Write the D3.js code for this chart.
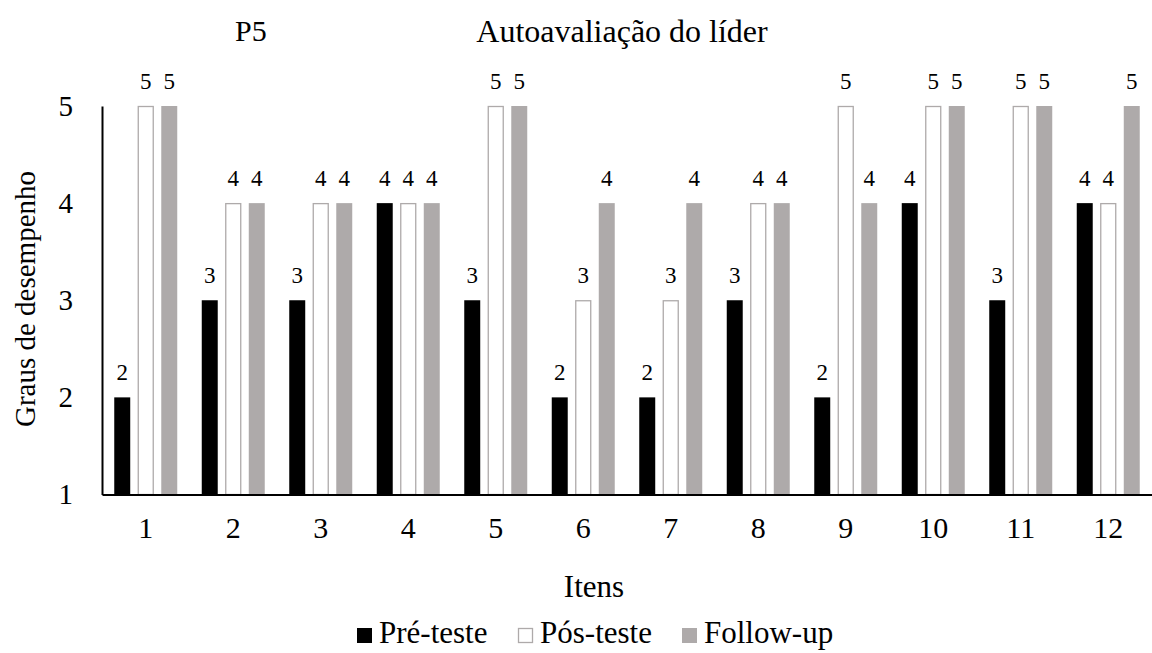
<!DOCTYPE html>
<html>
<head>
<meta charset="utf-8">
<script src="https://cdn.jsdelivr.net/npm/d3@7"></script>
<style>
  html, body { margin: 0; padding: 0; background: #fff; }
  svg, svg text { font-family: "Liberation Serif", "Times New Roman", serif; }
  svg { display: block; }
</style>
</head>
<body>
<svg id="chart" width="1152" height="653"></svg>
<script>
const categories = ["1","2","3","4","5","6","7","8","9","10","11","12"];
const seriesNames = ["Pré-teste", "Pós-teste", "Follow-up"];
const preTeste  = [2,3,3,4,3,2,2,3,2,4,3,4];
const posTeste  = [5,4,4,4,5,3,3,4,5,5,5,4];
const followUp  = [5,4,4,4,5,4,4,4,4,5,5,5];
const yTicks = [1,2,3,4,5];
const titleText = "Autoavaliação do líder";
const subTitle = "P5";
const yTitle = "Graus de desempenho";
const xTitle = "Itens";

(function () {
const FONT = "Liberation Serif";
const seriesValues = [preTeste, posTeste, followUp];
const fills = ["#000000", "#ffffff", "#aeaaaa"];
const strokes = ["none", "#aeaaaa", "none"];

const svg = d3.select("#chart");
const root = svg.append("g").attr("font-family", FONT);
const pLeft = 102, pRight = 1152, pTop = 106, pBottom = 494.5;

const x = d3.scaleBand().domain(categories).range([pLeft, pRight]).paddingInner(0.28).paddingOuter(0.14);
const xs = d3.scaleBand().domain(seriesNames).range([0, x.bandwidth()]).paddingInner(0.32);
const y = d3.scaleLinear().domain([1,5]).range([pBottom, pTop]);

seriesNames.forEach((s, si) => {
  const g = root.append("g");
  const data = categories.map((c, i) => ({c, v: seriesValues[si][i]}));
  const o = si === 1 ? 0.5 : 0;
  g.selectAll("rect").data(data).enter().append("rect")
    .attr("x", d => x(d.c) + xs(s) + o)
    .attr("y", d => y(d.v) + o)
    .attr("width", xs.bandwidth() - 2 * o)
    .attr("height", d => y(1) - y(d.v) - o)
    .attr("fill", fills[si])
    .attr("stroke", strokes[si])
    .attr("stroke-width", 1.3);
  g.selectAll("text").data(data).enter().append("text")
    .attr("x", d => x(d.c) + xs(s) + xs.bandwidth()/2)
    .attr("y", d => y(d.v) - 17)
    .attr("text-anchor", "middle")
    .attr("font-family", FONT)
    .attr("font-size", 23)
    .attr("fill", "#000")
    .text(d => d.v);
});

const yAxis = d3.axisLeft(y).tickValues(yTicks).tickSize(0).tickPadding(29).tickFormat(d3.format("d"));
const gy = root.append("g").attr("transform", `translate(${pLeft},0)`).call(yAxis);
gy.attr("font-family", FONT);
gy.select(".domain").attr("stroke", "#000").attr("stroke-width", 2);
gy.selectAll("text").attr("font-size", 29).attr("font-family", FONT).attr("fill", "#000");

const xAxis = d3.axisBottom(x).tickSize(0).tickPadding(22.5);
const gx = root.append("g").attr("transform", `translate(0,${pBottom})`).call(xAxis);
gx.attr("font-family", FONT);
gx.select(".domain").attr("stroke", "#000").attr("stroke-width", 2);
gx.selectAll("text").attr("font-size", 30).attr("font-family", FONT).attr("fill", "#000");

root.append("text").attr("x", 235).attr("y", 41).attr("font-size", 30).attr("font-family", FONT).text(subTitle);
root.append("text").attr("x", 622).attr("y", 42).attr("text-anchor", "middle").attr("font-size", 32).attr("font-family", FONT).text(titleText);
root.append("text").attr("transform", "translate(35,299) rotate(-90)").attr("text-anchor", "middle").attr("font-size", 29).attr("font-family", FONT).text(yTitle);
root.append("text").attr("x", 594).attr("y", 597).attr("text-anchor", "middle").attr("font-size", 31).attr("font-family", FONT).text(xTitle);

const legend = root.append("g");
const legendX = [357, 518, 682];
seriesNames.forEach((s, i) => {
  const o = i === 1 ? 0.5 : 0;
  legend.append("rect").attr("x", legendX[i] + o).attr("y", 628 + o)
    .attr("width", 15 - 2 * o).attr("height", 15 - 2 * o)
    .attr("fill", fills[i]).attr("stroke", strokes[i]).attr("stroke-width", 1.3);
  legend.append("text").attr("x", legendX[i] + 22).attr("y", 643).attr("font-size", 31).attr("font-family", FONT).text(s);
});
})();
</script>
</body>
</html>
